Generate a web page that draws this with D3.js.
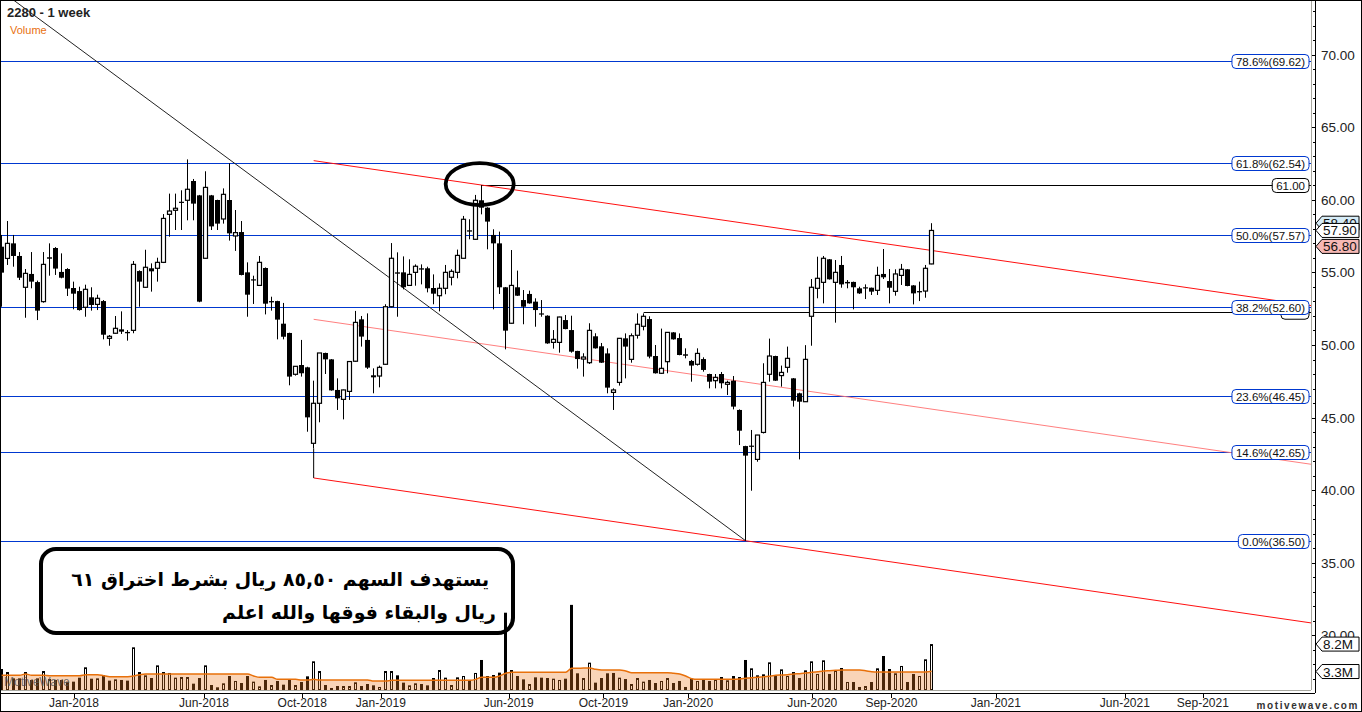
<!DOCTYPE html>
<html><head><meta charset="utf-8">
<script src="https://cdn.jsdelivr.net/npm/d3@7"></script>
<style>body{margin:0;background:#fff;overflow:hidden} svg{display:block}</style>
</head><body><svg id="chart" width="1362" height="712"></svg>
<script>
// ---- data (weekly candles, index 0..155) ----
const opens=[56.78,55.97,57.01,56.14,53.98,54.90,54.34,52.99,56.05,56.69,55.04,55.24,53.93,53.72,52.60,53.29,52.80,53.03,50.46,50.81,51.08,50.90,51.01,55.10,53.98,55.29,55.29,55.70,59.01,59.29,59.88,59.98,61.31,60.32,55.98,60.32,60.00,58.69,60.00,57.52,57.79,55.01,54.53,54.11,55.31,53.03,53.03,51.47,50.83,47.98,48.62,48.46,43.22,45.98,49.45,49.01,46.90,46.25,46.80,48.88,51.77,50.35,47.91,47.86,48.67,52.64,55.01,55.01,54.11,55.01,55.29,55.29,53.93,53.40,53.91,54.67,55.01,55.98,57.91,57.29,59.98,59.47,57.59,57.01,53.98,51.50,53.98,53.10,53.52,52.99,52.18,52.02,50.18,50.18,51.72,51.03,49.59,49.03,48.78,50.60,49.91,49.42,46.73,47.42,50.46,49.01,50.67,51.29,51.79,49.24,48.05,48.85,50.87,50.48,49.36,48.90,48.67,49.03,48.00,47.54,48.00,47.29,47.54,45.52,43.03,43.06,42.11,43.97,47.98,49.24,47.89,48.46,47.70,46.67,46.09,51.98,53.91,54.32,55.91,54.32,55.52,54.35,54.35,53.91,53.98,53.95,53.77,54.90,54.41,53.70,54.80,55.22,54.11,53.72,53.72,55.59];
const highs=[57.59,58.55,57.59,56.41,55.24,56.41,54.44,56.41,57.01,56.75,56.32,55.30,54.37,54.02,54.16,53.98,53.47,53.10,50.69,52.00,52.32,51.03,55.79,55.15,56.57,55.63,56.02,59.03,60.44,60.44,60.67,62.80,61.45,60.35,61.98,60.35,60.02,60.80,62.53,59.31,58.55,55.70,54.78,56.14,55.35,53.33,53.05,52.90,50.85,48.55,50.35,48.50,47.54,49.45,49.47,49.03,47.70,46.92,48.88,52.35,52.00,52.18,48.39,48.58,52.81,57.03,56.39,56.11,55.91,55.56,55.56,55.40,54.87,54.25,55.52,55.22,56.58,58.90,58.67,60.35,61.03,59.50,57.98,57.82,54.00,56.55,55.13,53.79,53.75,53.22,53.10,52.05,51.03,51.95,52.07,52.02,49.60,49.43,51.50,50.81,50.14,49.77,47.01,50.48,50.80,50.80,52.18,52.18,51.98,50.00,51.13,50.89,50.89,50.80,49.77,48.97,49.77,49.15,48.02,48.00,48.14,47.54,47.86,45.56,43.05,44.14,43.80,48.74,50.44,49.26,48.58,49.89,47.72,46.71,49.99,54.55,56.09,56.14,55.93,55.86,56.14,54.48,54.37,54.02,54.18,53.96,55.40,56.62,55.24,55.22,55.59,55.24,54.13,54.37,55.52,58.40];
const lows=[52.64,55.52,55.40,54.48,51.88,53.91,51.72,52.92,54.78,54.83,54.60,53.38,52.46,52.37,51.95,52.37,52.41,50.39,49.95,50.78,50.76,50.30,50.81,52.64,53.95,53.68,54.37,55.65,57.47,57.93,57.93,58.60,58.60,52.95,55.95,57.93,57.93,58.37,57.20,56.49,54.80,51.95,52.83,54.08,52.11,52.37,50.39,50.39,47.22,47.89,47.82,44.02,42.87,44.67,48.00,46.85,45.52,44.87,46.21,48.85,49.89,48.35,46.67,47.08,48.64,52.60,51.95,53.84,54.07,54.09,54.18,53.63,52.81,52.32,53.50,54.11,54.60,55.95,57.29,57.25,59.01,56.60,52.46,53.52,49.70,51.47,53.38,51.43,52.85,51.26,51.95,50.08,49.75,49.47,51.08,49.47,48.37,47.82,48.69,49.75,48.76,46.67,45.52,47.20,47.70,48.78,50.44,51.01,49.08,48.03,48.00,48.05,50.37,49.29,49.08,47.47,48.58,48.16,47.01,47.01,47.01,46.55,45.56,43.10,36.50,39.95,41.95,43.90,47.47,47.52,47.13,48.09,45.75,42.11,46.07,49.95,53.22,52.87,54.51,51.54,53.95,53.91,52.46,53.52,53.17,53.45,53.45,54.55,52.87,53.40,54.14,54.05,52.80,53.03,53.26,55.57];
const closes=[54.99,57.01,56.14,54.64,54.94,54.37,52.37,55.56,55.95,55.27,54.64,53.89,53.54,52.41,53.84,52.76,53.22,50.71,50.60,51.15,50.92,50.81,55.56,54.37,55.36,55.08,55.70,58.73,59.24,59.43,59.82,60.74,59.75,52.99,60.87,58.18,58.37,60.39,57.70,57.75,54.83,53.47,54.46,55.70,52.85,52.94,51.75,50.57,47.82,48.53,48.05,45.01,45.98,49.45,49.01,46.87,46.32,46.90,48.86,51.56,50.58,48.44,47.77,48.46,52.64,55.98,54.92,53.98,54.87,55.43,55.20,53.91,53.54,53.91,55.01,55.08,56.18,58.67,57.82,59.98,59.47,58.51,57.01,53.98,50.99,54.11,53.40,52.64,52.87,52.41,52.11,50.11,50.39,51.93,51.10,49.54,49.03,49.17,51.01,49.77,48.78,47.06,46.90,50.46,49.89,50.64,51.43,51.98,49.20,48.05,48.39,50.87,50.39,49.31,49.26,48.58,49.42,48.28,47.47,47.77,47.36,47.42,45.75,44.09,42.37,42.99,43.79,47.42,49.24,47.54,48.11,49.08,46.16,46.09,49.01,53.98,54.60,55.98,54.53,55.01,54.18,54.25,53.98,53.56,53.91,53.68,54.80,54.67,53.95,54.90,55.22,54.07,53.56,53.63,55.29,57.90];
const volumes=[3.75,3.21,2.08,2.08,3.21,1.79,2.08,3.39,1.96,1.79,1.79,1.49,1.49,2.2,4.05,2.02,2.08,2.62,1.67,1.9,1.79,1.67,7.62,3.21,2.62,2.14,4.4,3.21,3.04,2.2,2.32,2.32,1.13,2.14,4.4,0.89,0.48,1.19,2.5,1.61,1.25,2.5,1.49,0.65,1.79,0.89,1.61,0.95,1.79,0.89,1.43,2.44,5.12,3.39,0.89,0.36,0.71,0.71,0.71,1.37,0.71,1.07,0.83,0.54,3.39,3.39,2.62,1.31,0.83,1.19,1.07,0.83,2.14,3.57,2.2,0.89,2.26,2.5,1.79,3.04,5.36,2.5,2.68,3.1,13.8,3.57,2.5,1.9,1.07,2.26,2.2,2.14,2.02,1.79,2.02,15.2,2.98,2.14,4.88,1.31,2.14,2.98,3.04,2.2,1.96,1.07,2.14,1.49,1.79,1.25,1.61,2.14,1.25,1.61,0.54,2.02,1.61,1.79,1.61,1.79,2.32,1.73,2.5,2.32,5.36,3.87,2.62,2.8,4.94,2.62,3.69,2.5,3.21,2.14,3.51,5.12,2.86,5.3,2.86,3.45,3.93,1.43,1.43,0.54,0.71,1.43,3.87,6.07,3.75,2.98,4.29,1.43,2.86,2.5,5.48,8.2];
const volumeMA=[2.62,2.62,2.62,2.62,2.86,2.62,2.62,2.62,2.56,2.56,2.56,2.56,2.56,2.56,2.74,2.74,2.74,2.56,2.38,2.38,2.38,2.38,2.5,2.74,2.86,2.86,2.86,2.86,2.86,2.86,2.86,2.86,2.86,2.86,2.86,2.86,2.86,2.86,2.86,2.86,2.86,2.86,2.5,2.26,2.26,2.26,1.9,1.9,1.9,1.9,1.79,1.79,1.9,1.79,1.79,1.79,1.79,1.79,1.79,1.79,1.79,1.79,1.6,1.6,1.6,1.73,1.73,1.73,1.73,1.73,1.73,1.73,1.73,1.73,1.73,1.73,1.73,1.73,1.73,1.9,2.26,2.26,2.26,2.5,2.98,3.15,3.15,3.15,3.15,3.15,3.15,3.15,3.15,3.15,3.15,3.87,3.87,3.93,3.93,3.69,3.57,3.57,3.57,3.57,3.4,3.1,3.1,3.1,3.1,3.1,3.1,3.1,2.98,2.86,2.5,2.02,1.9,1.9,1.9,1.9,1.9,1.9,1.9,1.96,2.08,2.2,2.26,2.38,2.44,2.62,2.68,2.74,2.86,2.92,3.04,3.15,3.27,3.39,3.45,3.51,3.57,3.57,3.57,3.57,3.45,3.27,3.21,3.21,3.21,3.21,3.21,3.21,3.21,3.21,3.21,3.33];
const xTickLabels=["Jan-2018","Jun-2018","Oct-2018","Jan-2019","Jun-2019","Oct-2019","Jan-2020","Jun-2020","Sep-2020","Jan-2021","Jun-2021","Sep-2021"];
const xTickIndex=[12.06,33.72,50.1,63.2,84.5,100.3,114.4,135.1,148.3,165.7,187.2,200.2];
const yTickValues=[30,35,40,45,50,55,60,65,70];
const fibLabels=["78.6%","61.8%","50.0%","38.2%","23.6%","14.6%","0.0%"];
const fibValues=[69.62,62.54,57.57,52.60,46.45,42.65,36.50];
const noteLines=["يستهدف السهم ٨٥,٥٠ ريال بشرط اختراق ٦١","ريال والبقاء فوقها والله اعلم"];

// ---- scales ----
const PR=1311, AX=1315, PB=690;
const x=d3.scaleLinear().domain([0,218]).range([1.67,1309.67]);
const y=d3.scaleLinear().domain([26.207,73.793]).range([PB,0]);
const yv=d3.scaleLinear().domain([0,10]).range([PB,PB-56]);
const svg=d3.select("#chart");
const F="'Liberation Sans', Arial, sans-serif";
const BLUE="#0038d0";
const N=opens.length;
const bars=d3.range(N).map(i=>({i,o:opens[i],h:highs[i],l:lows[i],c:closes[i],v:volumes[i],ma:volumeMA[i],
  upV: i===0? closes[i]>=opens[i] : closes[i]>=closes[i-1]}));

svg.append("defs").append("clipPath").attr("id","plot").append("rect").attr("x",0).attr("y",0).attr("width",PR).attr("height",PB);
const g=svg.append("g").attr("clip-path","url(#plot)");

// callout box
const bx=41,by=549,bw=472,bh=84;
g.append("rect").attr("x",bx).attr("y",by).attr("width",bw).attr("height",bh).attr("rx",15)
 .attr("fill","#fff").attr("stroke","#000").attr("stroke-width",4);
const noteRight=[489,496], noteBase=[586,619], noteTargetW=[418,252];
const notes=g.selectAll("text.note").data(noteLines).join("text").attr("class","note")
 .attr("x",(d,k)=>noteRight[k]).attr("y",(d,k)=>noteBase[k])
 .attr("text-anchor","end").attr("font-family","'DejaVu Sans', sans-serif").attr("font-weight","bold")
 .attr("font-size",21).attr("fill","#000").text(d=>d);
const w0=notes.nodes()[0].getComputedTextLength();
const fs=Math.min(22,21*noteTargetW[0]/w0);
notes.attr("font-size",fs);

// volume bars
const cx=i=>Math.floor(x(i));
g.selectAll("rect.vol").data(bars).join("rect").attr("class","vol")
 .attr("x",d=>d.upV?cx(d.i)-1+0.5:cx(d.i)-1).attr("width",d=>d.upV?2:3)
 .attr("y",d=>d.upV?yv(d.v)+0.5:yv(d.v)).attr("height",d=>d.upV?Math.max(0,PB-yv(d.v)-0.5):PB-yv(d.v))
 .attr("fill",d=>d.upV?"#fff":"#000").attr("stroke",d=>d.upV?"#000":"none").attr("stroke-width",1);
// volume MA area + line
g.append("path").datum(bars).attr("d",d3.area().x(d=>x(d.i)).y0(PB).y1(d=>yv(d.ma)).curve(d3.curveMonotoneX))
 .attr("fill","rgb(236,120,30)").attr("fill-opacity",0.32);
g.append("path").datum(bars).attr("d",d3.line().x(d=>x(d.i)).y(d=>yv(d.ma)).curve(d3.curveMonotoneX))
 .attr("fill","none").attr("stroke","#e8700a").attr("stroke-width",1.5);

// fib lines
g.selectAll("line.fib").data(fibValues).join("line").attr("class","fib")
 .attr("x1",0).attr("x2",PR).attr("y1",d=>Math.round(y(d))+0.5).attr("y2",d=>Math.round(y(d))+0.5)
 .attr("stroke",BLUE).attr("stroke-width",1.1);
// black horizontal lines (61.00 and 52.26)
const hLines=[{i:80,v:61.00},{i:107,v:52.26}];
g.selectAll("line.hl").data(hLines).join("line").attr("class","hl")
 .attr("x1",d=>x(d.i)).attr("x2",PR).attr("y1",d=>Math.round(y(d.v))+0.5).attr("y2",d=>Math.round(y(d.v))+0.5)
 .attr("stroke","#000").attr("stroke-width",1);

// channel (red)
const chA={i:52,v:40.83}, chB={i:124,v:36.5}, chTop={i:80,v:61.03};
const slope=(chB.v-chA.v)/(chB.i-chA.i);
const off=chTop.v-(chA.v+slope*(chTop.i-chA.i));
const iEnd=220;
const chan=[{o:0,c:"#ff1010",w:1},{o:off/2,c:"#ff7070",w:0.9},{o:off,c:"#ff1010",w:1}];
g.selectAll("line.ch").data(chan).join("line").attr("class","ch")
 .attr("x1",x(chA.i)).attr("y1",d=>y(chA.v+d.o))
 .attr("x2",x(iEnd)).attr("y2",d=>y(chA.v+slope*(iEnd-chA.i)+d.o))
 .attr("stroke",d=>d.c).attr("stroke-width",d=>d.w);
g.append("line").attr("x1",x(chA.i)).attr("x2",x(chA.i)).attr("y1",y(lows[52])).attr("y2",y(chA.v))
 .attr("stroke","#000").attr("stroke-width",1);
// diagonal trend line
const tA={i:38,v:62.78}, tB={i:124,v:36.5};
const ts=(tB.v-tA.v)/(tB.i-tA.i);
g.append("line").attr("x1",x(-2)).attr("y1",y(tA.v+ts*(-2-tA.i))).attr("x2",x(tB.i)).attr("y2",y(tB.v))
 .attr("stroke","#222").attr("stroke-width",1);

// candles
const cg=g.append("g");
cg.selectAll("line.wick").data(bars).join("line").attr("class","wick")
 .attr("x1",d=>cx(d.i)+0.5).attr("x2",d=>cx(d.i)+0.5).attr("y1",d=>y(d.h)).attr("y2",d=>y(d.l))
 .attr("stroke","#000").attr("stroke-width",1);
cg.selectAll("rect.body").data(bars).join("rect").attr("class","body")
 .attr("x",d=>d.c>=d.o?cx(d.i)-2+0.5:cx(d.i)-2)
 .attr("width",d=>d.c>=d.o?4:5)
 .attr("y",d=>y(Math.max(d.o,d.c)))
 .attr("height",d=>Math.max(1.2,Math.abs(y(d.o)-y(d.c))))
 .attr("fill",d=>d.c>=d.o?"#fff":"#000").attr("stroke",d=>d.c>=d.o?"#000":"none").attr("stroke-width",1.2);

// ellipse around the 61 high
g.append("ellipse").attr("cx",x(80)-2).attr("cy",y(61.1)).attr("rx",34).attr("ry",21)
 .attr("fill","none").attr("stroke","#000").attr("stroke-width",3.8);

// fib labels
function boxLabel(txt,cy,stroke,right){
  const t=svg.append("text").attr("x",right-4).attr("y",cy+4).attr("text-anchor","end")
    .attr("font-family",F).attr("font-size",11.5).attr("fill","#111").text(txt);
  const w=t.node().getComputedTextLength();
  svg.insert("rect",()=>t.node()).attr("x",right-w-8).attr("y",cy-7).attr("width",w+8).attr("height",14)
    .attr("rx",4).attr("fill","#fff").attr("stroke",stroke).attr("stroke-width",1);
}
svg.append("rect").attr("x",1281).attr("y",y(52.26)-7).attr("width",28).attr("height",14).attr("rx",4)
 .attr("fill","#fff").attr("stroke","#000");
fibValues.forEach((v,k)=>boxLabel(fibLabels[k]+"("+v.toFixed(2)+")",Math.round(y(v))+0.5,BLUE,1309));
boxLabel("61.00",Math.round(y(61))+0.5,"#000",1309);

// frame lines
svg.append("line").attr("x1",0).attr("x2",PR).attr("y1",PB+0.5).attr("y2",PB+0.5).attr("stroke","#a8a8a0");
svg.append("line").attr("x1",PR+0.5).attr("x2",PR+0.5).attr("y1",0).attr("y2",PB).attr("stroke","#a8a8a0");
svg.append("line").attr("x1",0).attr("x2",AX).attr("y1",PB+3.5).attr("y2",PB+3.5).attr("stroke","#000");
svg.append("line").attr("x1",AX+0.5).attr("x2",AX+0.5).attr("y1",0).attr("y2",PB+3).attr("stroke","#000");

// y axis ticks + labels
const minor=d3.range(27,74);
svg.selectAll("line.ymin").data(minor).join("line").attr("class","ymin")
 .attr("x1",d=>d%5===0?PR+1:AX-2).attr("x2",AX).attr("y1",d=>Math.round(y(d))+0.5).attr("y2",d=>Math.round(y(d))+0.5)
 .attr("stroke","#000");
svg.selectAll("text.yl").data(yTickValues).join("text").attr("class","yl")
 .attr("x",1321).attr("y",d=>y(d)+5).attr("font-family",F).attr("font-size",13.5).attr("fill","#222")
 .text(d=>d.toFixed(2));

// x axis ticks + labels
svg.selectAll("line.xt").data(xTickIndex).join("line").attr("class","xt")
 .attr("x1",d=>Math.round(x(d))+0.5).attr("x2",d=>Math.round(x(d))+0.5).attr("y1",PB+3).attr("y2",PB+8).attr("stroke","#000");
svg.selectAll("text.xl").data(xTickLabels).join("text").attr("class","xl")
 .attr("x",(d,k)=>x(xTickIndex[k])).attr("y",707).attr("text-anchor","middle")
 .attr("font-family",F).attr("font-size",12).attr("fill","#222").text(d=>d);

// right-side value flags
function flag(cy,txt,fill){
  svg.append("path").attr("d",`M${AX+1},${cy} L${AX+7},${cy-7} L1359,${cy-7} L1359,${cy+7} L${AX+7},${cy+7} Z`)
    .attr("fill",fill).attr("stroke","#000").attr("stroke-width",1);
  svg.append("text").attr("x",1323).attr("y",cy+5).attr("font-family",F).attr("font-size",13.5).attr("fill","#111").text(txt);
}
flag(y(58.40),"58.40","#d6ecf7");
flag(y(57.90),"57.90","#ffffff");
flag(y(56.80),"56.80","#f6b8b4");
flag(yv(8.2),"8.2M","#ffffff");
flag(yv(3.3),"3.3M","#ffffff");

// titles / watermarks
svg.append("text").attr("x",7).attr("y",17).attr("font-family",F).attr("font-weight","bold").attr("font-size",13).attr("fill","#222").text("2280 - 1 week");
svg.append("text").attr("x",10).attr("y",34).attr("font-family",F).attr("font-size",11).attr("fill","#e87010").text("Volume");
svg.append("text").attr("x",4).attr("y",686).attr("font-family",F).attr("font-size",12).attr("fill","#555").attr("opacity",0.8).text("MotiveWave");
svg.append("text").attr("x",1359).attr("y",709).attr("text-anchor","end").attr("font-family",F).attr("font-weight","bold")
 .attr("font-size",10).attr("letter-spacing",1.6).attr("fill","#333").text("motivewave.com");
svg.append("rect").attr("x",0.5).attr("y",0.5).attr("width",1361).attr("height",711).attr("fill","none").attr("stroke","#000");
</script></body></html>
